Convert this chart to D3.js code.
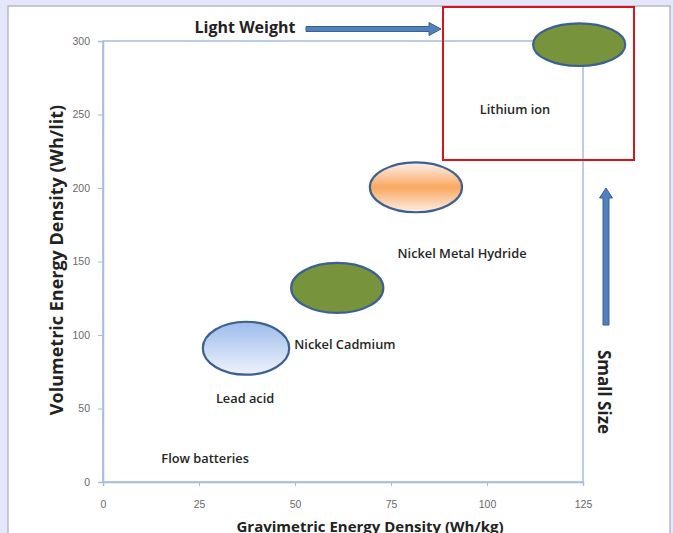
<!DOCTYPE html>
<html>
<head>
<meta charset="utf-8">
<script src="https://cdn.jsdelivr.net/npm/d3@7"></script>
<style>
  body { margin: 0; background: #e6e6fa; }
  text { font-family: "Open Sans", "Noto Sans", sans-serif; }
</style>
</head>
<body>
<div id="chart"></div>
<script>
// battery types and their ranges (gravimetric Wh/kg, volumetric Wh/lit)
var batteries = ["Lithium ion", "Nickel Metal Hydride", "Nickel Cadmium", "Lead acid", "Flow batteries"];
var gravMin = [112, 69.5, 49, 26, null];
var gravMax = [136, 93.5, 73, 48.5, null];
var volMin  = [283, 183.5, 115, 73, null];
var volMax  = [312, 217.5, 149, 109, null];
// where each name sits (data units)
var labelGrav = [107.3, 93.5, 63, 37, 26.6];
var labelVol  = [253, 155, 93, 56, 15];
var fills = ["green", "orange", "green", "blue", null];

var xTicks = [0, 25, 50, 75, 100, 125];
var yTicks = [0, 50, 100, 150, 200, 250, 300];

var width = 673, height = 533;
var margin = {top: 41, right: 90, bottom: 51, left: 103};

var svg = d3.select("#chart")
  .append("svg")
    .attr("width", width)
    .attr("height", height);

// lavender frame + white slide panel
svg.append("rect").attr("width", width).attr("height", height).attr("fill", "#e6e6fa");
svg.append("rect")
    .attr("x", 8).attr("y", 6).attr("width", 662).attr("height", 540)
    .attr("fill", "#ffffff").attr("stroke", "#b8b8c6").attr("stroke-width", 1.5);

var x = d3.scaleLinear().domain([0, 125]).range([margin.left, width - margin.right]);
var y = d3.scaleLinear().domain([0, 300]).range([height - margin.bottom, margin.top]);

var defs = svg.append("defs");
var gBlue = defs.append("linearGradient").attr("id", "blue").attr("x1", 0).attr("y1", 0).attr("x2", 0).attr("y2", 1);
gBlue.append("stop").attr("offset", "0%").attr("stop-color", "#9dbbeb");
gBlue.append("stop").attr("offset", "100%").attr("stop-color", "#eef3fc");
var gOrange = defs.append("linearGradient").attr("id", "orange").attr("x1", 0).attr("y1", 0).attr("x2", 0).attr("y2", 1);
gOrange.append("stop").attr("offset", "0%").attr("stop-color", "#fdf0ee");
gOrange.append("stop").attr("offset", "50%").attr("stop-color", "#f9a860");
gOrange.append("stop").attr("offset", "100%").attr("stop-color", "#fdeee6");
var fillColor = {green: "#77933c", orange: "url(#orange)", blue: "url(#blue)"};

// plot area border
svg.append("rect")
    .attr("x", x(0)).attr("y", y(300))
    .attr("width", x(125) - x(0)).attr("height", y(0) - y(300))
    .attr("fill", "none").attr("stroke", "#a4bde0").attr("stroke-width", 1.5);

// axes
var xAxis = svg.append("g")
    .attr("transform", "translate(0," + y(0) + ")")
    .call(d3.axisBottom(x).tickValues(xTicks).tickSize(4).tickPadding(15));
var yAxis = svg.append("g")
    .attr("transform", "translate(" + x(0) + ",0)")
    .call(d3.axisLeft(y).tickValues(yTicks).tickSize(5).tickPadding(8));
[xAxis, yAxis].forEach(function(a) {
  a.select(".domain").attr("stroke", "#a4bde0").attr("stroke-width", 1.5);
  a.selectAll(".tick line").attr("stroke", "#a4bde0");
  a.selectAll(".tick text").attr("fill", "#6a6a6a").style("font-size", "10.5px")
    .style("font-family", "'Liberation Sans', sans-serif");
});

// ellipses
var shapes = batteries.map(function(d, i) { return {i: i}; }).filter(function(d) { return gravMin[d.i] != null; });
svg.append("g")
  .selectAll("ellipse")
  .data(shapes)
  .enter()
  .append("ellipse")
    .attr("cx", function(d) { return x((gravMin[d.i] + gravMax[d.i]) / 2); })
    .attr("cy", function(d) { return y((volMin[d.i] + volMax[d.i]) / 2); })
    .attr("rx", function(d) { return (x(gravMax[d.i]) - x(gravMin[d.i])) / 2; })
    .attr("ry", function(d) { return (y(volMin[d.i]) - y(volMax[d.i])) / 2; })
    .attr("fill", function(d) { return fillColor[fills[d.i]]; })
    .attr("stroke", "#3b6091")
    .attr("stroke-width", 2.2);

// names
svg.append("g")
  .selectAll("text")
  .data(batteries)
  .enter()
  .append("text")
    .attr("x", function(d, i) { return x(labelGrav[i]); })
    .attr("y", function(d, i) { return y(labelVol[i]); })
    .attr("text-anchor", "middle")
    .attr("dominant-baseline", "middle")
    .attr("fill", "#262626")
    .style("font-size", "12.8px")
    .style("font-weight", "600")
    .text(function(d) { return d; });

// red highlight box
svg.append("rect")
    .attr("x", 443).attr("y", 7).attr("width", 191).attr("height", 153)
    .attr("fill", "none").attr("stroke", "#d9151b").attr("stroke-width", 2);

// block arrows
function blockArrow(len, thick, head, headLen) {
  return "M0," + (-thick / 2) + "L" + (len - headLen) + "," + (-thick / 2) +
    "L" + (len - headLen) + "," + (-head / 2) + "L" + len + ",0L" + (len - headLen) + "," + (head / 2) +
    "L" + (len - headLen) + "," + (thick / 2) + "L0," + (thick / 2) + "Z";
}
svg.append("path")
    .attr("transform", "translate(306,29)")
    .attr("d", blockArrow(135, 5, 13, 12))
    .attr("fill", "#4f81bd").attr("stroke", "#3b6091").attr("stroke-width", 1);
svg.append("path")
    .attr("transform", "translate(606,325) rotate(-90)")
    .attr("d", blockArrow(137, 6, 13, 10))
    .attr("fill", "#4f81bd").attr("stroke", "#3b6091").attr("stroke-width", 1);

svg.append("text")
    .attr("x", 245).attr("y", 29)
    .attr("text-anchor", "middle").attr("dominant-baseline", "middle")
    .attr("fill", "#222").style("font-size", "16px").style("font-weight", "700")
    .text("Light Weight");
svg.append("text")
    .attr("transform", "translate(603,392) rotate(90)")
    .attr("text-anchor", "middle").attr("dominant-baseline", "middle")
    .attr("fill", "#222").style("font-size", "17px").style("font-weight", "700")
    .text("Small Size");

// axis titles
svg.append("text")
    .attr("transform", "translate(58,260) rotate(-90)")
    .attr("text-anchor", "middle").attr("dominant-baseline", "middle")
    .attr("fill", "#222").style("font-size", "18px").style("font-weight", "700")
    .text("Volumetric Energy Density (Wh/lit)");
svg.append("text")
    .attr("x", 370).attr("y", 528)
    .attr("text-anchor", "middle").attr("dominant-baseline", "middle")
    .attr("fill", "#222").style("font-size", "15px").style("font-weight", "700")
    .text("Gravimetric Energy Density  (Wh/kg)");
</script>
</body>
</html>
